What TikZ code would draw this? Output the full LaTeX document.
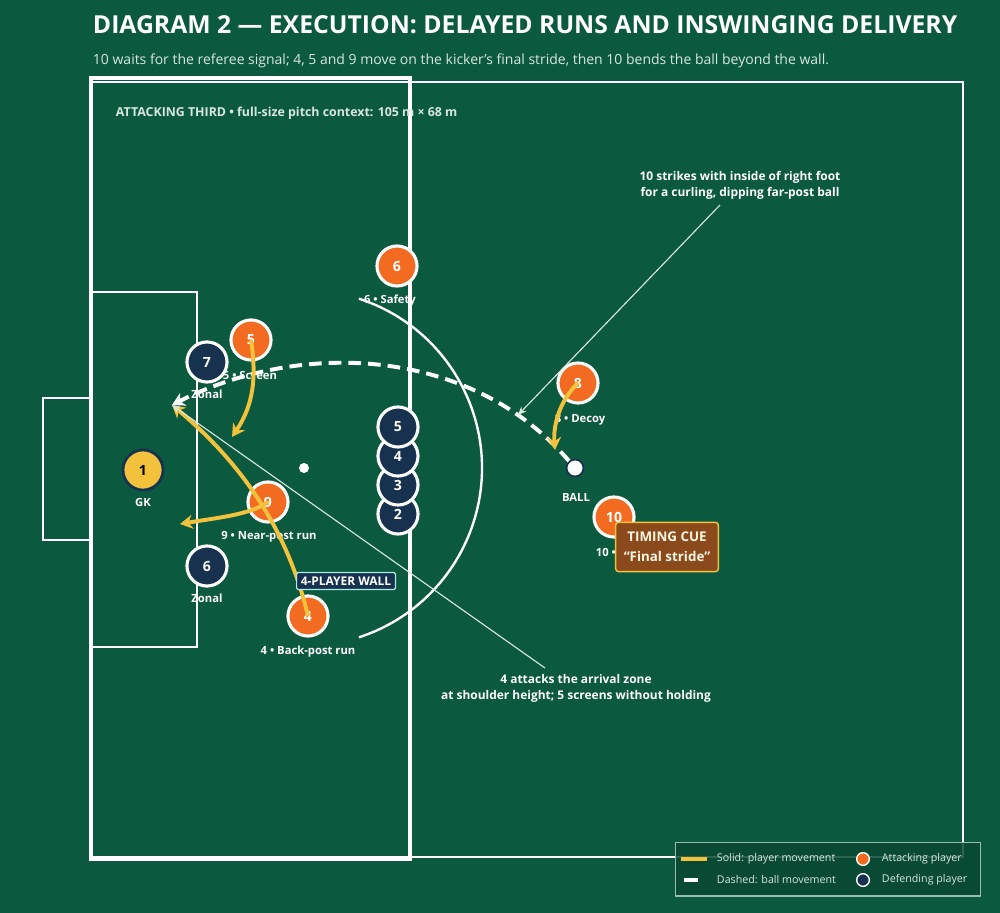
\documentclass[tikz,border=0pt]{standalone}
\usepackage{fontspec}
\setmainfont{Open Sans}
\usetikzlibrary{arrows.meta, positioning}
\definecolor{pitch}{HTML}{0B5A40}
\definecolor{attack}{HTML}{F26B21}
\definecolor{defend}{HTML}{17324F}
\definecolor{runcol}{HTML}{F2C23D}
\definecolor{cuebg}{HTML}{8B4A1C}
\definecolor{notecol}{HTML}{D8E6DE}
\tikzset{
  player/.style = {circle, draw=white, line width=2.2pt, minimum
      size=#1, inner sep=0pt, text=white,
      font=\bfseries\fontsize{10}{10}\selectfont},
  player/.default = 28.5pt, % diameter of a player disc
  att/.style = {player, fill=attack},
  def/.style = {player, fill=defend},
  tag/.style = {text=white, font=\bfseries\fontsize{8}{9}\selectfont},
  line/.style = {draw=white, line width=1.7pt},
  run/.style = {runcol, line width=2.8pt, -{Stealth[length=9pt,width=10pt]}},
  ball path/.style = {white, line width=2.8pt, dash pattern=on 9pt off 5pt,
      -{Stealth[length=9pt,width=10pt]}},
  note/.style = {notecol, line width=0.8pt, -{Stealth[length=6pt,width=5pt]}},
}
\begin{document}
\begin{tikzpicture}[x=0.025cm, y=-0.025cm]
  \useasboundingbox[fill=pitch] (0,0) rectangle (1000,913);

  % heading
  \node[anchor=west, text=white, font=\bfseries\fontsize{17.6}{20}\selectfont]
    (title) at (88,25) {DIAGRAM 2 — EXECUTION: DELAYED RUNS AND INSWINGING DELIVERY};
  \node[anchor=west, text=notecol, font=\fontsize{9.95}{11}\selectfont]
    (sub) at (88,61) {10 waits for the referee signal; 4, 5 and 9 move on the kicker’s final stride, then 10 bends the ball beyond the wall.};

  % pitch markings
  \draw[line] (91,82) rectangle (963,857);
  \draw[line, line width=2.2pt] (91,78) rectangle (410,859);
  \draw[line] (91,292) rectangle (197,647);
  \draw[line] (43,398) rectangle (91,540);
  \fill[white] (304,468) circle (5);
  \draw[line] (304,468) ++(-72:178) arc[start angle=-72, end angle=72, radius=178];
  \node[anchor=west, text=notecol, font=\bfseries\fontsize{8.8}{10}\selectfont]
    (ctx) at (111,113) {ATTACKING THIRD • full-size pitch context: 105 m × 68 m};

  % ball and its flight
  \node[circle, fill=white, draw=defend, line width=1.2pt, minimum size=12pt,
    inner sep=0pt] (ball) at (575,468) {};
  \node[tag] (balltag) at (576,497) {BALL};
  \coordinate (target) at (172,405);
  \draw[ball path] (ball) .. controls (470,346) and (300,340) .. (target);

  % defenders
  \node[circle, fill=runcol, draw=defend, line width=2pt, minimum size=28.5pt,
    inner sep=0pt, font=\bfseries\fontsize{10}{10}\selectfont] (gk) at (143,470) {1};
  \node[tag] (gktag) at (143,502) {GK};
  \node[def] (d7) at (207,362) {7};
  \node[tag] (d7tag) at (207,394) {Zonal};
  \node[def] (d6) at (207,566) {6};
  \node[tag] (d6tag) at (207,598) {Zonal};
  \node[def] (w2) at (398,514) {2};
  \node[def] (w3) at (398,485) {3};
  \node[def] (w4) at (398,456) {4};
  \node[def] (w5) at (398,427) {5};

  % attackers
  \node[att] (a6) at (397,266) {6};
  \node[tag] (a6tag) at (390,301) {6 • Safety};
  \node[att] (a5) at (251,340) {5};
  \node[tag] (a5tag) at (250,375) {5 • Screen};
  \node[att] (a8) at (578,383) {8};
  \node[tag] (a8tag) at (580,420) {8 • Decoy};
  \node[att] (a9) at (268,502) {9};
  \node[tag] (a9tag) at (269,537) {9 • Near-post run};
  \node[att] (a4) at (308,616) {4};
  \node[tag] (a4tag) at (308,652) {4 • Back-post run};
  \node[att] (a10) at (614,517) {10};
  \node[tag, anchor=west] (a10tag) at (591,552) {10 • Kicker};

  % runs
  \coordinate (r5) at (232,437);
  \coordinate (r9) at (180,524);
  \coordinate (r8) at (555,450);
  \draw[run] (a5.center) .. controls (258,385) and (250,410) .. (r5);
  \draw[run] (a9.center) .. controls (250,515) and (215,518) .. (r9);
  \draw[run] (a4.center) .. controls (290,540) and (250,470) .. (target);
  \draw[run] (a8.center) .. controls (560,400) and (553,425) .. (r8);

  % labels on top
  \node[draw=notecol!80!cyan, fill=defend, rounded corners=1pt, line width=0.8pt,
    text=white, font=\bfseries\fontsize{8.5}{9}\selectfont, inner sep=3pt]
    (wall) at (346,581) {4-PLAYER WALL};
  \node[draw=runcol, fill=cuebg, rounded corners=2pt, line width=1pt, text=white!85!runcol,
    align=center, font=\bfseries\fontsize{9.5}{14}\selectfont, minimum width=73pt,
    minimum height=35pt] (cue) at (667,547) {TIMING CUE\\“Final stride”};

  % notes
  \node[text=white, align=center, font=\bfseries\fontsize{8.5}{11.5}\selectfont]
    (strike) at (740,185) {10 strikes with inside of right foot\\for a curling, dipping far-post ball};
  \coordinate (strikeend) at (518,415);
  \draw[note] (720,205) -- (strikeend);
  \node[text=white, align=center, font=\bfseries\fontsize{8.5}{11.5}\selectfont]
    (arrive) at (576,688) {4 attacks the arrival zone\\at shoulder height; 5 screens without holding};
  \draw[note] (545,668) -- (target);

  % legend
  \node[draw=notecol!70!pitch, fill=pitch!80!black, fill opacity=0.85, line width=0.8pt,
    minimum width=217pt, minimum height=38pt, anchor=north west] (legend) at (675,842) {};
  \draw[runcol, line width=3pt] (681,859) -- (707,859);
  \draw[white, line width=3pt] (684,880) -- (698,880);
  \node[anchor=west, text=notecol, font=\fontsize{7.6}{9}\selectfont] (l1) at (712,859) {Solid: player movement};
  \node[anchor=west, text=notecol, font=\fontsize{7.6}{9}\selectfont] (l2) at (712,880) {Dashed: ball movement};
  \node[circle, fill=attack, draw=white, line width=1pt, minimum size=9pt, inner sep=0pt] (l3) at (863,859) {};
  \node[circle, fill=defend, draw=white, line width=1pt, minimum size=9pt, inner sep=0pt] (l4) at (863,880) {};
  \node[anchor=west, text=notecol, font=\fontsize{7.6}{9}\selectfont] (l5) at (877,859) {Attacking player};
  \node[anchor=west, text=notecol, font=\fontsize{7.6}{9}\selectfont] (l6) at (877,880) {Defending player};
\end{tikzpicture}
\end{document}
